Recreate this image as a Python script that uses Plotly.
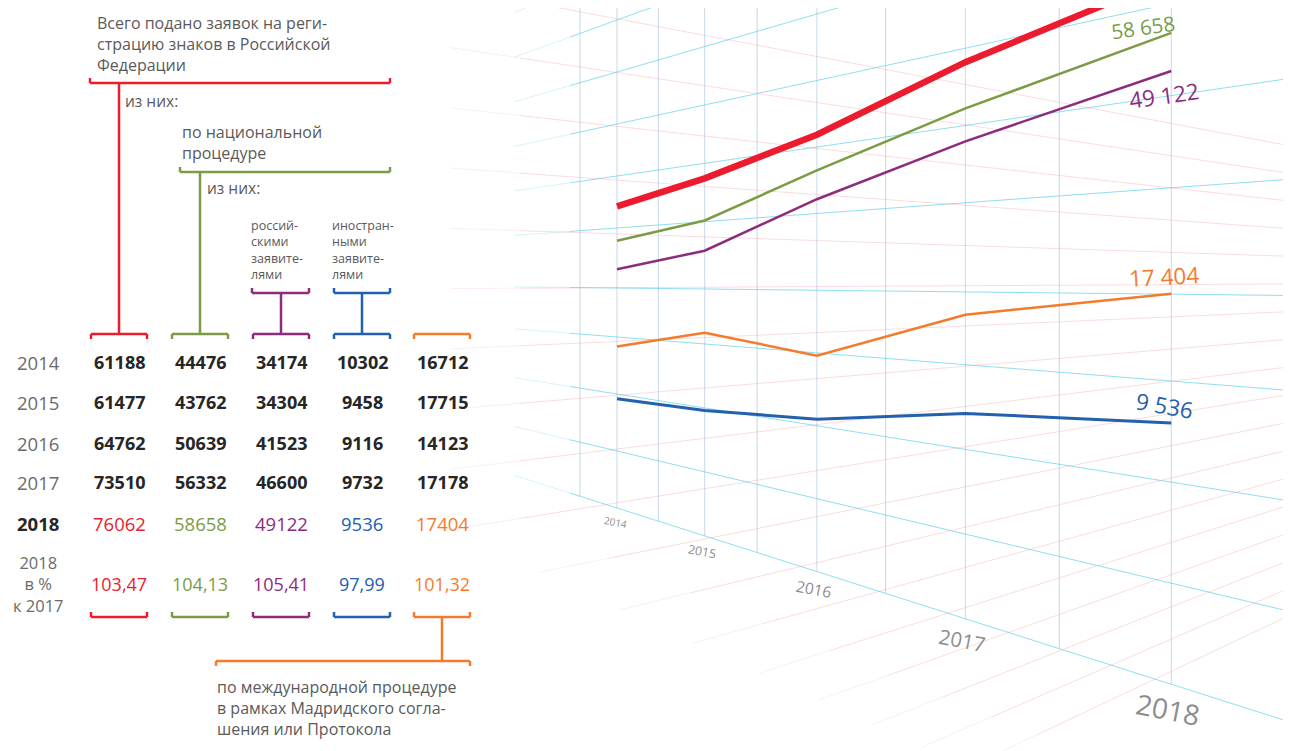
import math
import plotly.graph_objects as go

# ---------------- data ----------------
years = [2014, 2015, 2016, 2017, 2018]
total_all = [61188, 61477, 64762, 73510, 76062]          # всего подано заявок
national_all = [44476, 43762, 50639, 56332, 58658]       # по национальной процедуре
national_russian = [34174, 34304, 41523, 46600, 49122]   # российскими заявителями
national_foreign = [10302, 9458, 9116, 9732, 9536]       # иностранными заявителями
madrid_intl = [16712, 17715, 14123, 17178, 17404]        # по международной процедуре
pct_2018_vs_2017 = [103.47, 104.13, 105.41, 97.99, 101.32]

# ---------------- styles ----------------
W, H = 1291, 751
PAGE_MARGIN = 8                   # default <body> margin of the html page
FONT = "Open Sans"
RED, GREEN, PURPLE, BLUE, ORANGE = "#ec1c2e", "#7b9c45", "#8d2c7d", "#2360ad", "#f47b2a"
DARK, GREY, YEARGREY = "#262626", "#5a5a5a", "#8c8c8c"
CYAN, PINK, VGRID = "rgba(95,208,235,0.7)", "rgba(240,150,160,0.33)", "rgba(165,190,215,0.6)"

table_cols = [  # (values, colour, column centre x)
    (total_all, RED, 119),
    (national_all, GREEN, 200),
    (national_russian, PURPLE, 281),
    (national_foreign, BLUE, 362),
    (madrid_intl, ORANGE, 442),
]

# ---------------- perspective "camera" ----------------
VPX, HORIZON = -100.0, 280.0      # left vanishing point
RVPX = 2000.0                     # right vanishing point
D0 = 717.0                        # distance of first column from vanishing point
SHRINK = 0.109                    # depth step per year
FLOOR_H = 228.0                   # floor depth under horizon at first column
DATA_HORIZON, DATA_SCALE, DATA_EYE, DATA_GAMMA = 391.0, 108.0, 11070.0, 1.2


def depth_scale(t):
    return 1.0 / (1.0 - SHRINK * (t - years[0]))


def col_x(t):
    return VPX + D0 * depth_scale(t)


def floor_y(t):
    return HORIZON + FLOOR_H * depth_scale(t)


def data_y(t, v):
    return DATA_HORIZON - DATA_SCALE * depth_scale(t) ** DATA_GAMMA * (math.log(v) - math.log(DATA_EYE))


fig = go.Figure()


def add_segments(segs, color, width, opacity=1.0):
    xs, ys = [], []
    for (x0, y0, x1, y1) in segs:
        xs += [x0, x1, None]
        ys += [y0, y1, None]
    fig.add_trace(go.Scatter(x=xs, y=ys, mode="lines", opacity=opacity,
                             line=dict(color=color, width=width), hoverinfo="skip"))


# vertical grid (half-year steps)
vsegs = []
t = years[0] - 0.5
while t <= years[-1] + 1e-9:
    vsegs.append((col_x(t), 0, col_x(t), floor_y(t)))
    t += 0.5
add_segments(vsegs, VGRID, 1)

# cyan lines converging to the left vanishing point
cyan_levels = [-312, -260, -208, -156, -104, -52, 8, 57, 114, 171, 228]
c_main, c_fade = [], []
for h in cyan_levels:
    def cy(x, h=h):
        return HORIZON + h * (x - VPX) / D0
    c_fade.append((515, cy(515), 570, cy(570)))
    c_main.append((570, cy(570), W + 10, cy(W + 10)))
add_segments(c_fade, CYAN, 1, 0.35)
add_segments(c_main, CYAN, 1)

# pink lines converging to the right vanishing point
b = (FLOOR_H + 100) / D0
p_main, p_fade = [], []
for n in range(-5, 13):
    y560 = HORIZON + 8 + 56 * n
    m = (y560 - HORIZON) / (560 - RVPX)

    def ry(x, m=m):
        return HORIZON + m * (x - RVPX)
    xs = 450.0
    if ry(xs) > HORIZON + b * (xs - VPX):
        xs = (m * RVPX - b * VPX) / (m - b)
    p_fade.append((xs, ry(xs), xs + 70, ry(xs + 70)))
    p_main.append((xs + 70, ry(xs + 70), W + 10, ry(W + 10)))
add_segments(p_fade, PINK, 1, 0.45)
add_segments(p_main, PINK, 1)

# data lines
chart_series = [  # values, colour, width, label (dx, dy, angle, size)
    (madrid_intl, ORANGE, 2.5, (-7, -17, -3, 22.5)),
    (national_foreign, BLUE, 3, (-7, -18, 10, 22.5)),
    (national_russian, PURPLE, 2.5, (-7, 24, -8, 22.5)),
    (national_all, GREEN, 2.5, (-28, -6, -8, 20.5)),
    (total_all, RED, 6.5, None),
]
annotations = []
for vals, color, width, lab in chart_series:
    xs = [col_x(t) for t in years]
    ys = [data_y(t, v) for t, v in zip(years, vals)]
    fig.add_trace(go.Scatter(x=xs, y=ys, mode="lines",
                             line=dict(color=color, width=width), hoverinfo="skip"))
    if lab:
        dx, dy, ang, fs = lab
        annotations.append(dict(x=xs[-1], y=ys[-1], xshift=dx, yshift=-dy,
                                text=f"{vals[-1]:,}".replace(",", " "), showarrow=False,
                                textangle=ang, font=dict(family=FONT, size=fs, color=color)))

# year labels on the floor
for t in years:
    s = depth_scale(t)
    annotations.append(dict(x=col_x(t) - 2 * s, y=floor_y(t) + 14 * s, text=str(t), showarrow=False,
                            textangle=11, font=dict(family=FONT, size=10 * s ** 1.8, color=YEARGREY)))


# ---------------- left table ----------------
def txt(x, y, s, size=15, color=GREY, anchor="left", weight=400, align="left"):
    annotations.append(dict(x=x, y=y, text=s, showarrow=False, xanchor=anchor, yanchor="middle",
                            align=align,
                            font=dict(family=FONT, size=size, color=color, weight=weight)))


txt(95, 44, "Всего подано заявок на реги-<br>страцию знаков в Российской<br>Федерации", 16)
txt(123, 101, "из них:", 15.5)
txt(180, 142, "по национальной<br>процедуре", 16)
txt(205, 188, "из них:", 15.5)
txt(249, 250, "россий-<br>скими<br>заявите-<br>лями", 12.5)
txt(330, 250, "иностран-<br>ными<br>заявите-<br>лями", 12.5)

row_y = [362, 402, 443, 482, 523]
for r, yr in enumerate(years):
    last = r == len(years) - 1
    txt(38, row_y[r], str(yr), 18.5, DARK if last else "#6b6b6b", "center", 700 if last else 400)
    for vals, color, cx in table_cols:
        txt(cx, row_y[r], str(vals[r]), 18.5 if last else 18, color if last else DARK, "center",
            400 if last else 700)
txt(38, 584, "2018<br>в %<br>к 2017", 16.5, "#6b6b6b", "center", align="center")
for (vals, color, cx), pct in zip(table_cols, pct_2018_vs_2017):
    txt(cx, 584, f"{pct:.2f}".replace(".", ","), 18, color, "center")
txt(215, 708, "по международной процедуре<br>в рамках Мадридского согла-<br>шения или Протокола", 16)

# brackets
shapes = []


def seg(x0, y0, x1, y1, color, w=2.5):
    shapes.append(dict(type="line", xref="x", yref="y", x0=x0, y0=y0, x1=x1, y1=y1,
                       line=dict(color=color, width=w)))


def bracket(x0, x1, y, color, tick):
    seg(x0, y, x1, y, color)
    seg(x0, y, x0, y + tick, color)
    seg(x1, y, x1, y + tick, color)


bracket(90, 390, 83, RED, -5)
seg(119, 83, 119, 334, RED)
bracket(180, 390, 172, GREEN, -5)
seg(200, 172, 200, 334, GREEN)
bracket(252, 309, 293, PURPLE, -5)
seg(281, 293, 281, 334, PURPLE)
bracket(334, 390, 293, BLUE, -5)
seg(362, 293, 362, 334, BLUE)
for vals, color, cx in table_cols:
    bracket(cx - 28, cx + 28, 334, color, 5)
    bracket(cx - 28, cx + 28, 617, color, -5)
seg(442, 617, 442, 661, ORANGE)
bracket(216, 470, 661, ORANGE, 5)

fig.update_layout(
    width=W, height=H, margin=dict(l=0, r=0, t=0, b=0),
    paper_bgcolor="white", plot_bgcolor="white", showlegend=False,
    xaxis=dict(range=[PAGE_MARGIN, W + PAGE_MARGIN], visible=False, fixedrange=True),
    yaxis=dict(range=[H + PAGE_MARGIN, PAGE_MARGIN], visible=False, fixedrange=True),
    annotations=annotations, shapes=shapes,
)
fig.write_html("out.html")
